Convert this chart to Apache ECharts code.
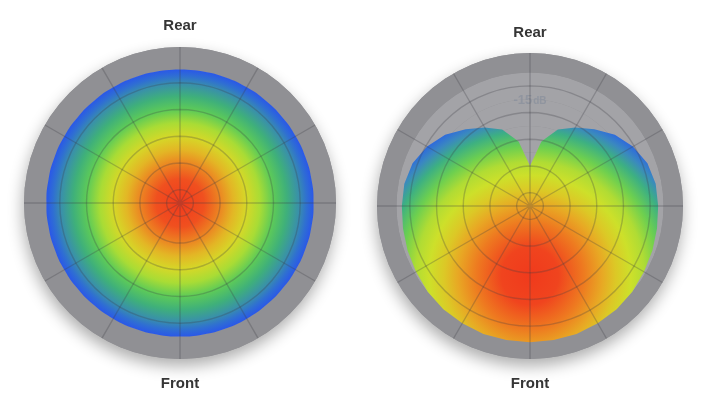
<!DOCTYPE html>
<html><head><meta charset="utf-8">
<script src="https://cdn.jsdelivr.net/npm/echarts@6/dist/echarts.min.js"></script>
<style>html,body{margin:0;padding:0;background:#fff}#c{width:706px;height:400px}</style>
</head><body><div id="c"></div>
<script>
// ---- data (radius units: one grid-ring step) ----
const angles = [0,10,20,30,40,50,60,70,80,90,100,110,120,130,140,150,160,170,180,
  190,200,210,220,230,240,250,260,270,280,290,300,310,320,330,340,350,360];
const omniRadius = [5,5,5,5,5,5,5,5,5,5,5,5,5,5,5,5,5,5,5,
  5,5,5,5,5,5,5,5,5,5,5,5,5,5,5,5,5,5];
const cardioidRadius = [1.5,2.45,3.05,3.4,3.75,4.15,4.45,4.68,4.78,4.8,4.83,4.88,4.93,5.0,5.05,5.07,5.1,5.1,5.1,
  5.1,5.1,5.07,5.05,5.0,4.93,4.88,4.83,4.8,4.78,4.68,4.45,4.15,3.75,3.4,3.05,2.45,1.5];
const ringRadii = [0.5, 1.5, 2.5, 3.5, 4.5];
const leftOuterRadius = 5.84;
const rightOuterRadius = 5.73;
const topLabel = 'Rear';
const bottomLabel = 'Front';
const levelValue = '-15';
const levelUnit = 'dB';
const levelPoint = [3.95, 0];

// ---- layout / style ----
const L = {cx: 180, cy: 203, r: 156};
const R = {cx: 530, cy: 206, r: 153};
const lightGray = '#a3a3a7', darkGray = '#909094';
const gridColor = 'rgba(62,62,68,0.28)';
const leftStops = [
  [0, '#f13a1d'], [0.18, '#f0501f'], [0.3, '#ec8522'], [0.4, '#e3b625'],
  [0.5, '#d5d828'], [0.6, '#a9dc35'], [0.7, '#5ecb57'], [0.8, '#3fb07a'],
  [0.89, '#3990aa'], [0.95, '#2f6fd2'], [1, '#2a58e8']
].map(s => ({offset: s[0], color: s[1]}));
const rightStops = [
  [0, '#f03a1c'], [0.17, '#f0441e'], [0.32, '#ee7a20'], [0.43, '#e8a824'],
  [0.51, '#dcc826'], [0.6, '#cde02a'], [0.68, '#b0dc34'], [0.77, '#6ccf50'],
  [0.86, '#3db082'], [0.93, '#3a88c0'], [1, '#2a60e6']
].map(s => ({offset: s[0], color: s[1]}));

const chart = echarts.init(document.getElementById('c'), null, {renderer: 'canvas'});

function angleAxis(i) {
  return {polarIndex: i, type: 'value', min: 0, max: 360, interval: 30, startAngle: 90, clockwise: true,
    axisLine: {show: false}, axisTick: {show: false}, axisLabel: {show: false},
    splitLine: {show: true, lineStyle: {color: gridColor, width: 1.4}}, z: 10};
}
function radiusAxis(i, max) {
  return {polarIndex: i, type: 'value', min: 0, max: max, interval: 1,
    axisLine: {show: false}, axisTick: {show: false}, axisLabel: {show: false},
    splitLine: {show: false},
    splitArea: {show: true, areaStyle: {color: [lightGray, lightGray, lightGray, lightGray, lightGray, darkGray]}}};
}
function rings(i) {
  return ringRadii.map(rv => ({
    type: 'line', coordinateSystem: 'polar', polarIndex: i, silent: true, smooth: true,
    symbol: 'none', z: 4, data: angles.map(a => [rv, a]),
    lineStyle: {color: gridColor, width: 1.4}
  }));
}

const series = [
  {type: 'line', coordinateSystem: 'polar', polarIndex: 0, silent: true, smooth: true, symbol: 'none', z: 2,
    data: angles.map((a, k) => [omniRadius[k], a]),
    lineStyle: {width: 0},
    areaStyle: {opacity: 1, color: {type: 'radial', x: 0.5, y: 0.5, r: 0.5, colorStops: leftStops}}},
  {type: 'line', coordinateSystem: 'polar', polarIndex: 1, silent: true, smooth: false, symbol: 'none', z: 2,
    data: angles.map((a, k) => [cardioidRadius[k], a]),
    lineStyle: {width: 0},
    areaStyle: {opacity: 1, color: {type: 'radial', x: R.cx, y: R.cy + 70, r: 168, global: true, colorStops: rightStops}}},
  ...rings(0), ...rings(1),
  {type: 'scatter', coordinateSystem: 'polar', polarIndex: 1, silent: true, symbolSize: 1, z: 6,
    itemStyle: {color: 'rgba(0,0,0,0)'},
    data: [levelPoint],
    label: {show: true, position: 'inside', formatter: '{a|' + levelValue + '}{b|' + levelUnit + '}',
      rich: {a: {fontSize: 13, fontWeight: 'bold', color: '#8b919e', fontFamily: 'Liberation Sans'},
             b: {fontSize: 10, fontWeight: 'bold', color: '#8b919e', fontFamily: 'Liberation Sans', padding: [2, 0, 0, 1]}}}}
];

function txt(x, y, s) {
  return {type: 'text', x: x, y: y, z: 20,
    style: {text: s, fill: '#353535', font: 'bold 15px "Liberation Sans", Arial, sans-serif', align: 'center', verticalAlign: 'middle'}};
}
function shadowDisk(p) {
  return {type: 'circle', z: -10, silent: true, shape: {cx: p.cx, cy: p.cy, r: p.r},
    style: {fill: darkGray, shadowBlur: 16, shadowOffsetY: 7, shadowOffsetX: -1, shadowColor: 'rgba(0,0,0,0.33)'}};
}

chart.setOption({
  backgroundColor: '#ffffff',
  animation: false,
  polar: [{center: [L.cx, L.cy], radius: L.r}, {center: [R.cx, R.cy], radius: R.r}],
  angleAxis: [angleAxis(0), angleAxis(1)],
  radiusAxis: [radiusAxis(0, leftOuterRadius), radiusAxis(1, rightOuterRadius)],
  graphic: [shadowDisk(L), shadowDisk(R),
    txt(L.cx, 26, topLabel), txt(R.cx, 33, topLabel),
    txt(L.cx, 384, bottomLabel), txt(R.cx, 384, bottomLabel)],
  series: series
});
</script></body></html>
